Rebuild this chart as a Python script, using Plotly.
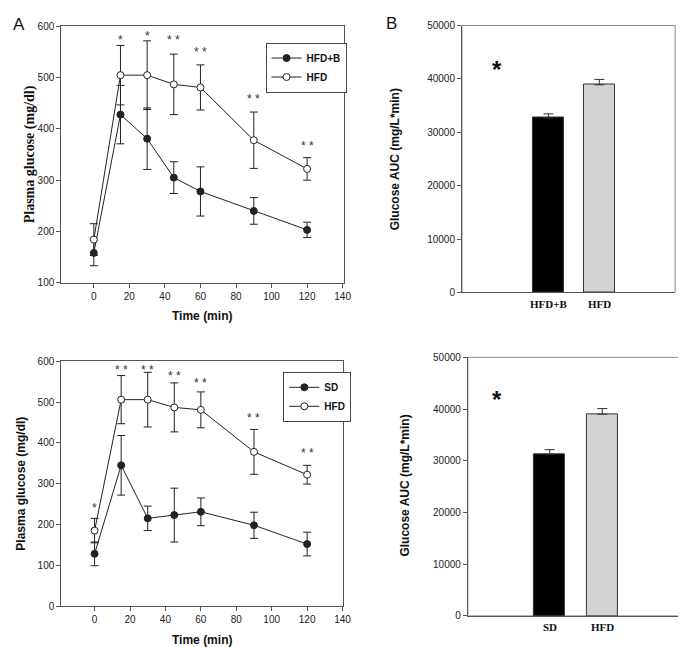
import plotly.graph_objects as go

# ---------------- data ----------------
time_min = [0, 15, 30, 45, 60, 90, 120]

# Panel A (top): HFD+B vs HFD
hfdb_mean = [158, 428, 381, 305, 278, 240, 203]
hfdb_err = [25, 57, 60, 31, 48, 26, 15]
hfd_mean_top = [184, 505, 505, 487, 481, 378, 322]
hfd_err_top = [31, 58, 67, 59, 44, 55, 22]
stars_top = ["", "*", "*", "* *", "* *", "* *", "* *"]
stars_top_y = [None, 573, 581, 574, 551, 459, 367]

# Panel A (bottom): SD vs HFD
sd_mean = [128, 345, 215, 223, 231, 198, 152]
sd_err = [29, 73, 30, 66, 34, 32, 29]
hfd_mean_bot = [185, 506, 506, 487, 481, 378, 322]
hfd_err_bot = [30, 59, 67, 60, 44, 55, 23]
stars_bot = ["*", "* *", "* *", "* *", "* *", "* *", "* *"]
stars_bot_y = [240, 579, 579, 564, 548, 461, 374]

# Panel B (top): AUC
auc_top_labels = ["HFD+B", "HFD"]
auc_top_vals = [32700, 38900]
auc_top_err = [750, 1000]

# Panel B (bottom): AUC
auc_bot_labels = ["SD", "HFD"]
auc_bot_vals = [31300, 39000]
auc_bot_err = [850, 1100]

# ---------------- styling ----------------
W, H = 686, 647
NARROW = "Liberation Sans Narrow, Arial Narrow, Liberation Sans, Arial, sans-serif"
ARIAL = "Liberation Sans, Arial, sans-serif"
SERIF = "Liberation Serif, Times New Roman, serif"
LINE = "#222222"
AX = "#555555"

def px(x):
    return x / W

def py(y):
    return 1 - y / H

fig = go.Figure()

def line_trace(x, y, err, filled, name, xa, ya, legend):
    return go.Scatter(
        x=x, y=y, name=name, mode="lines+markers",
        xaxis=xa, yaxis=ya, legend=legend,
        line=dict(color=LINE, width=1),
        marker=dict(size=7, color=LINE if filled else "white",
                    line=dict(color=LINE, width=1), symbol="circle"),
        error_y=dict(type="data", array=err, visible=True, color=LINE,
                     thickness=1, width=4),
    )

# top A
fig.add_trace(line_trace(time_min, hfdb_mean, hfdb_err, True, "HFD+B", "x", "y", "legend"))
fig.add_trace(line_trace(time_min, hfd_mean_top, hfd_err_top, False, "HFD", "x", "y", "legend"))
# bottom A
fig.add_trace(line_trace(time_min, sd_mean, sd_err, True, "SD", "x3", "y3", "legend2"))
fig.add_trace(line_trace(time_min, hfd_mean_bot, hfd_err_bot, False, "HFD", "x3", "y3", "legend2"))

# B bars
def bar_trace(vals, err, xa, ya, width):
    return go.Bar(
        x=[0, 1], y=vals, xaxis=xa, yaxis=ya, width=width, showlegend=False,
        marker=dict(color=["#000000", "#d3d3d3"], line=dict(color="#333333", width=1)),
        error_y=dict(type="data", symmetric=False, array=err, arrayminus=[0, 0],
                     visible=True, color="#333333", thickness=1, width=5),
    )

fig.add_trace(bar_trace(auc_top_vals, auc_top_err, "x2", "y2", 0.6))
fig.add_trace(bar_trace(auc_bot_vals, auc_bot_err, "x4", "y4", 0.585))

tickfont = dict(family=NARROW, size=10, color="#222222")

def xaxis_line(domain, rng, anchor):
    return dict(domain=domain, range=rng, anchor=anchor, tickmode="array",
                tickvals=[0, 20, 40, 60, 80, 100, 120, 140],
                ticks="outside", ticklen=4, tickcolor=AX, showline=True,
                linecolor=AX, linewidth=1, mirror=True, showgrid=False,
                zeroline=False, tickfont=tickfont)

def yaxis_line(domain, rng, anchor, vals):
    return dict(domain=domain, range=rng, anchor=anchor, tickmode="array",
                tickvals=vals, ticks="outside", ticklen=4, tickcolor=AX,
                showline=True, linecolor=AX, linewidth=1, mirror=True,
                showgrid=False, zeroline=False, tickfont=tickfont)

def xaxis_bar(domain, rng, anchor):
    return dict(domain=domain, range=rng, anchor=anchor, showticklabels=False,
                ticks="", showline=True, linecolor=AX, linewidth=1,
                showgrid=False, zeroline=False)

def yaxis_bar(domain, rng, anchor):
    return dict(domain=domain, range=rng, anchor=anchor, tickmode="array",
                tickvals=[0, 10000, 20000, 30000, 40000, 50000],
                ticktext=["0", "10000", "20000", "30000", "40000", "50000"],
                ticks="outside", ticklen=4, tickcolor=AX, showline=True,
                linecolor=AX, linewidth=1, showgrid=False, zeroline=False,
                tickfont=tickfont)

legend_font = dict(family=NARROW, size=10, color="#111111", weight="bold")

fig.update_layout(
    width=W, height=H, margin=dict(l=0, r=0, t=0, b=0),
    paper_bgcolor="white", plot_bgcolor="white",
    xaxis=xaxis_line([px(54), px(340)], [-18.3, 140.5], "y"),
    yaxis=yaxis_line([py(273.3), py(12.7)], [100, 600], "x", [100, 200, 300, 400, 500, 600]),
    xaxis2=xaxis_bar([px(460), px(676)], [-1.70, 2.49], "y2"),
    yaxis2=yaxis_bar([py(283.3), py(11.7)], [0, 50000], "x2"),
    xaxis3=xaxis_line([px(54), px(339)], [-18.8, 140], "y3"),
    yaxis3=yaxis_line([py(602.3), py(353.3)], [0, 600], "x3", [0, 100, 200, 300, 400, 500, 600]),
    xaxis4=xaxis_bar([px(466), px(682)], [-1.557, 2.5], "y4"),
    yaxis4=yaxis_bar([py(612.3), py(349.3)], [0, 50000], "x4"),
    legend=dict(x=px(261), y=py(29), xanchor="left", yanchor="top",
                bgcolor="white", bordercolor="#444444", borderwidth=1,
                font=legend_font, itemwidth=30, tracegroupgap=0),
    legend2=dict(x=px(279), y=py(364), xanchor="left", yanchor="top",
                 bgcolor="white", bordercolor="#444444", borderwidth=1,
                 font=legend_font, itemwidth=30, tracegroupgap=0),
    bargap=0,
)

# frame boxes for B panels (light grey top/right)
for xa, ya in (("x2", "y2"), ("x4", "y4")):
    fig.add_shape(type="rect", xref=f"{xa} domain", yref=f"{ya} domain",
                  x0=0, x1=1, y0=0, y1=1, line=dict(color="#8a8a8a", width=1),
                  layer="below")

ann = []
# asterisks
for t, s, yv in zip(time_min, stars_top, stars_top_y):
    if s:
        ann.append(dict(x=t, y=yv, xref="x", yref="y", text=s, showarrow=False,
                        font=dict(family=ARIAL, size=12, color="#333333")))
for t, s, yv in zip(time_min, stars_bot, stars_bot_y):
    if s:
        ann.append(dict(x=t, y=yv, xref="x3", yref="y3", text=s, showarrow=False,
                        font=dict(family=ARIAL, size=12, color="#333333")))
# AUC star
ann.append(dict(x=px(495), y=py(56), xref="paper", yref="paper", text="<b>*</b>", showarrow=False,
                font=dict(family=ARIAL, size=24, color="#111111")))
ann.append(dict(x=px(495), y=py(392), xref="paper", yref="paper", text="<b>*</b>", showarrow=False,
                font=dict(family=ARIAL, size=24, color="#111111")))

# bar category labels
for i, lab in enumerate(auc_top_labels):
    ann.append(dict(x=i, y=py(295), xref="x2", yref="paper", text=f"<b>{lab}</b>",
                    showarrow=False, font=dict(family=SERIF, size=11, color="#111111")))
for i, lab in enumerate(auc_bot_labels):
    ann.append(dict(x=i, y=py(624), xref="x4", yref="paper", text=f"<b>{lab}</b>",
                    showarrow=False, font=dict(family=SERIF, size=11, color="#111111")))

# axis titles
ann += [
    dict(x=px(197), y=py(307), xref="paper", yref="paper", text="<b>Time (min)</b>",
         showarrow=False, font=dict(family=NARROW, size=12, color="#111111")),
    dict(x=px(197), y=py(637), xref="paper", yref="paper", text="<b>Time (min)</b>",
         showarrow=False, font=dict(family=NARROW, size=12, color="#111111")),
    dict(x=px(22), y=py(143), xref="paper", yref="paper", text="<b>Plasma glucose (mg/dl)</b>",
         showarrow=False, textangle=-90, font=dict(family=SERIF, size=14, color="#111111")),
    dict(x=px(13), y=py(478), xref="paper", yref="paper", text="<b>Plasma glucose (mg/dl)</b>",
         showarrow=False, textangle=-90, font=dict(family=ARIAL, size=12, color="#111111")),
    dict(x=px(393), y=py(148), xref="paper", yref="paper", text="<b>Glucose AUC (mg/L*min)</b>",
         showarrow=False, textangle=-90, font=dict(family=ARIAL, size=12, color="#111111")),
    dict(x=px(402), y=py(480), xref="paper", yref="paper", text="<b>Glucose AUC (mg/L*min)</b>",
         showarrow=False, textangle=-90, font=dict(family=ARIAL, size=12, color="#111111")),
    dict(x=px(11), y=py(11), xref="paper", yref="paper", text="A",
         showarrow=False, font=dict(family=ARIAL, size=17, color="#111111")),
    dict(x=px(389), y=py(10), xref="paper", yref="paper", text="B",
         showarrow=False, font=dict(family=ARIAL, size=17, color="#111111")),
]
for a in ann:
    a["xanchor"] = "center"
    a["yanchor"] = "middle"
fig.update_layout(annotations=ann)

fig.write_html("out.html")
